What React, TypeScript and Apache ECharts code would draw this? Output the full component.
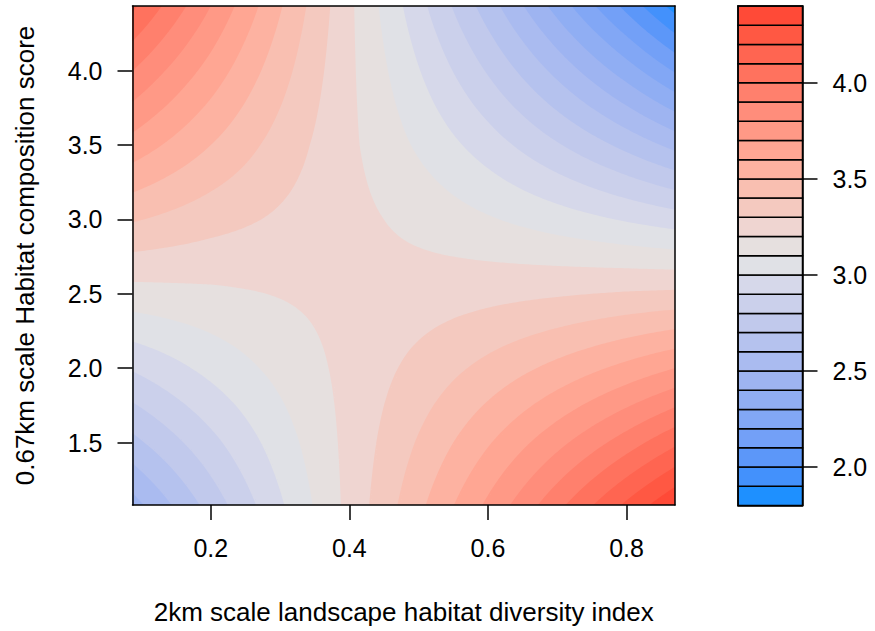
import React, { useEffect, useRef } from "react";
import * as echarts from "echarts";

// ---- data ----
const xGrid = [0.087, 0.2, 0.4, 0.6, 0.8, 0.87];
const yGrid = [1.08, 1.5, 2.0, 2.5, 3.0, 3.5, 4.0, 4.435];
// rows follow yGrid (bottom to top), columns follow xGrid
const zGrid = [
  [2.46, 2.74, 3.23, 3.72, 4.22, 4.39],
  [2.67, 2.87, 3.23, 3.59, 3.95, 4.08],
  [2.91, 3.03, 3.23, 3.43, 3.63, 3.7],
  [3.16, 3.18, 3.23, 3.27, 3.31, 3.32],
  [3.41, 3.34, 3.23, 3.11, 2.99, 2.95],
  [3.66, 3.5, 3.22, 2.95, 2.67, 2.57],
  [3.9, 3.66, 3.22, 2.79, 2.35, 2.19],
  [4.12, 3.8, 3.22, 2.65, 2.07, 1.86],
];
const levels = [
  1.8, 1.9, 2.0, 2.1, 2.2, 2.3, 2.4, 2.5, 2.6, 2.7, 2.8, 2.9, 3.0, 3.1, 3.2,
  3.3, 3.4, 3.5, 3.6, 3.7, 3.8, 3.9, 4.0, 4.1, 4.2, 4.3, 4.4,
];
const bandColors = [
  "#1E90FF", "#4391FC", "#5C97F9", "#73A0F7", "#82A7F5", "#90AEF3",
  "#9EB4F1", "#AABBF0", "#B5C2EE", "#C1C9EC", "#CBD0EB", "#D6D8EA",
  "#E0E1E6", "#E6E0DF", "#EFD5D1", "#F4C9BF", "#F9BFB1", "#FDB2A1",
  "#FFA693", "#FF9986", "#FF8D7B", "#FF806D", "#FF725E", "#FF6551",
  "#FF5843", "#FF4A37",
];
const xTicks = [0.2, 0.4, 0.6, 0.8];
const yTicks = [1.5, 2.0, 2.5, 3.0, 3.5, 4.0];
const keyTicks = [2.0, 2.5, 3.0, 3.5, 4.0];
const xTitle = "2km scale landscape habitat diversity index";
const yTitle = "0.67km scale Habitat composition score";

const FONT = "'Liberation Sans', Arial, Helvetica, sans-serif";
const FS = 25;
const FS_TITLE = 26;
const LW = 1.5;

let shapeRegistered = false;
function registerBandShape() {
  if (shapeRegistered) return;
  const BandRegion = (echarts.graphic as any).extendShape({
    type: "bandRegion",
    shape: { polys: [] },
    buildPath(ctx: any, shape: any) {
      const polys: number[][] = shape.polys || [];
      for (const p of polys) {
        if (p.length < 6) continue;
        ctx.moveTo(p[0], p[1]);
        for (let i = 2; i < p.length; i += 2) ctx.lineTo(p[i], p[i + 1]);
        ctx.closePath();
      }
    },
  });
  (echarts.graphic as any).registerShape("bandRegion", BandRegion);
  shapeRegistered = true;
}

function cellValue(j: number, t: number, i: number, s: number) {
  const z00 = zGrid[j][i];
  const z10 = zGrid[j][i + 1];
  const z01 = zGrid[j + 1][i];
  const z11 = zGrid[j + 1][i + 1];
  return (
    z00 * (1 - s) * (1 - t) + z10 * s * (1 - t) + z01 * (1 - s) * t + z11 * s * t
  );
}

type Node = { cell: number; f: number; P: number };
let geoCache: { key: string; cols: Node[]; rows: Node[]; Z: number[][] } | null = null;

function getGeometry(api: any) {
  const px = xGrid.map((x) => api.coord([x, yGrid[0]])[0]);
  const py = yGrid.map((y) => api.coord([xGrid[0], y])[1]);
  const key = px.join(",") + "|" + py.join(",");
  if (geoCache && geoCache.key === key) return geoCache;
  const STEP = 2.5;
  const build = (p: number[]) => {
    const out: Node[] = [];
    for (let i = 0; i < p.length - 1; i++) {
      const n = Math.max(1, Math.ceil(Math.abs(p[i + 1] - p[i]) / STEP));
      for (let c = 0; c < n; c++) {
        out.push({ cell: i, f: c / n, P: p[i] + ((p[i + 1] - p[i]) * c) / n });
      }
    }
    out.push({ cell: p.length - 2, f: 1, P: p[p.length - 1] });
    return out;
  };
  const cols = build(px);
  const rows = build(py);
  const Z = rows.map((r) => cols.map((c) => cellValue(r.cell, r.f, c.cell, c.f)));
  geoCache = { key, cols, rows, Z };
  return geoCache;
}

const rd = (v: number) => Math.round(v * 100) / 100;

function regionAbove(api: any, L: number) {
  const { cols, rows, Z } = getGeometry(api);
  const polys: number[][] = [];
  for (let r = 0; r < rows.length - 1; r++) {
    const Y0 = rd(rows[r].P);
    const Y1 = rd(rows[r + 1].P);
    let runStart: number | null = null;
    let runEnd = 0;
    for (let c = 0; c < cols.length - 1; c++) {
      const X0 = rd(cols[c].P);
      const X1 = rd(cols[c + 1].P);
      const za = Z[r][c];
      const zb = Z[r][c + 1];
      const zc = Z[r + 1][c + 1];
      const zd = Z[r + 1][c];
      const ia = za >= L, ib = zb >= L, ic = zc >= L, id = zd >= L;
      if (ia && ib && ic && id) {
        if (runStart === null) runStart = X0;
        runEnd = X1;
        continue;
      }
      if (runStart !== null) {
        polys.push([runStart, Y0, runEnd, Y0, runEnd, Y1, runStart, Y1]);
        runStart = null;
      }
      if (!(ia || ib || ic || id)) continue;
      const v = [
        [X0, Y0, za],
        [X1, Y0, zb],
        [X1, Y1, zc],
        [X0, Y1, zd],
      ];
      const out: number[] = [];
      for (let e = 0; e < 4; e++) {
        const P = v[e];
        const Q = v[(e + 1) % 4];
        const pin = P[2] >= L;
        const qin = Q[2] >= L;
        if (pin) out.push(P[0], P[1]);
        if (pin !== qin) {
          const t = (L - P[2]) / (Q[2] - P[2]);
          out.push(rd(P[0] + t * (Q[0] - P[0])), rd(P[1] + t * (Q[1] - P[1])));
        }
      }
      if (out.length >= 6) polys.push(out);
    }
    if (runStart !== null) {
      polys.push([runStart, Y0, runEnd, Y0, runEnd, Y1, runStart, Y1]);
    }
  }
  return polys;
}

export default function App() {
  const ref = useRef<HTMLDivElement>(null);

  useEffect(() => {
    if (!ref.current) return;
    registerBandShape();
    const chart = echarts.init(ref.current, undefined, { renderer: "svg" });

    const textBase = { color: "#000", fontFamily: FONT, fontSize: FS };
    const titleBase = { color: "#000", fontFamily: FONT, fontSize: FS_TITLE };
    const lineOnly = (extra: any) => ({
      type: "value",
      axisLine: { show: true, onZero: false, lineStyle: { color: "#000", width: LW } },
      axisTick: { show: false },
      axisLabel: { show: false },
      splitLine: { show: false },
      z: 10,
      ...extra,
    });

    const xMin = xGrid[0];
    const xMax = xGrid[xGrid.length - 1];
    const yMin = yGrid[0];
    const yMax = yGrid[yGrid.length - 1];

    const option: any = {
      animation: false,
      backgroundColor: "#fff",
      textStyle: { fontFamily: FONT },
      grid: [
        { left: 132.5, top: 6, width: 542.5, height: 499, containLabel: false },
        { left: 738, top: 6, width: 64.5, height: 499.5, containLabel: false },
      ],
      xAxis: [
        {
          type: "value",
          gridIndex: 0,
          min: xMin,
          max: xMax,
          position: "bottom",
          axisLine: { show: true, onZero: false, lineStyle: { color: "#000", width: LW } },
          axisTick: {
            show: true,
            inside: false,
            length: 15,
            customValues: xTicks,
            lineStyle: { color: "#000", width: LW },
          },
          axisLabel: {
            ...textBase,
            margin: 30,
            customValues: xTicks,
            formatter: (v: number) => v.toFixed(1),
          },
          splitLine: { show: false },
          name: xTitle,
          nameLocation: "middle",
          nameGap: 94,
          nameTextStyle: { ...titleBase },
          z: 10,
        },
        lineOnly({ gridIndex: 0, min: xMin, max: xMax, position: "top" }),
        lineOnly({ gridIndex: 1, min: 0, max: 1, position: "bottom" }),
        lineOnly({ gridIndex: 1, min: 0, max: 1, position: "top" }),
      ],
      yAxis: [
        {
          type: "value",
          gridIndex: 0,
          min: yMin,
          max: yMax,
          position: "left",
          axisLine: { show: true, onZero: false, lineStyle: { color: "#000", width: LW } },
          axisTick: {
            show: true,
            inside: false,
            length: 15,
            customValues: yTicks,
            lineStyle: { color: "#000", width: LW },
          },
          axisLabel: {
            ...textBase,
            margin: 30,
            customValues: yTicks,
            formatter: (v: number) => v.toFixed(1),
          },
          splitLine: { show: false },
          name: yTitle,
          nameLocation: "middle",
          nameRotate: 90,
          nameGap: 95,
          nameTextStyle: { ...titleBase },
          z: 10,
        },
        lineOnly({ gridIndex: 0, min: yMin, max: yMax, position: "right" }),
        lineOnly({ gridIndex: 1, min: levels[0], max: levels[levels.length - 1], position: "left" }),
        {
          type: "value",
          gridIndex: 1,
          min: levels[0],
          max: levels[levels.length - 1],
          position: "right",
          axisLine: { show: true, onZero: false, lineStyle: { color: "#000", width: LW } },
          axisTick: {
            show: true,
            inside: false,
            length: 15,
            customValues: keyTicks,
            lineStyle: { color: "#000", width: LW },
          },
          axisLabel: {
            ...textBase,
            margin: 30,
            customValues: keyTicks,
            formatter: (v: number) => v.toFixed(1),
          },
          splitLine: { show: false },
          z: 10,
        },
      ],
      series: [
        {
          type: "custom",
          name: "surface",
          coordinateSystem: "cartesian2d",
          xAxisIndex: 0,
          yAxisIndex: 0,
          clip: true,
          silent: true,
          z: 2,
          encode: { x: 0, y: 1 },
          data: bandColors.map((_, k) => [xGrid[0], yGrid[0], k]),
          renderItem: (params: any, api: any) => {
            const k = api.value(2);
            const polys = regionAbove(api, levels[k]);
            return {
              type: "bandRegion",
              shape: { polys },
              style: { fill: bandColors[k], stroke: null },
              silent: true,
            };
          },
        },
        {
          type: "custom",
          name: "key",
          coordinateSystem: "cartesian2d",
          xAxisIndex: 2,
          yAxisIndex: 2,
          silent: true,
          z: 3,
          encode: { y: [0, 1] },
          data: bandColors.map((_, k) => [levels[k], levels[k + 1], k]),
          renderItem: (params: any, api: any) => {
            const lo = api.value(0);
            const hi = api.value(1);
            const k = api.value(2);
            const p0 = api.coord([0, lo]);
            const p1 = api.coord([1, hi]);
            return {
              type: "rect",
              shape: {
                x: p0[0],
                y: p1[1],
                width: p1[0] - p0[0],
                height: p0[1] - p1[1],
              },
              style: { fill: bandColors[k], stroke: "#000", lineWidth: LW },
            };
          },
        },
      ],
    };

    chart.setOption(option);
    return () => {
      chart.dispose();
    };
  }, []);

  return (
    <div
      ref={ref}
      style={{ position: "fixed", left: 0, top: 0, width: 875, height: 631, background: "#fff" }}
    />
  );
}
